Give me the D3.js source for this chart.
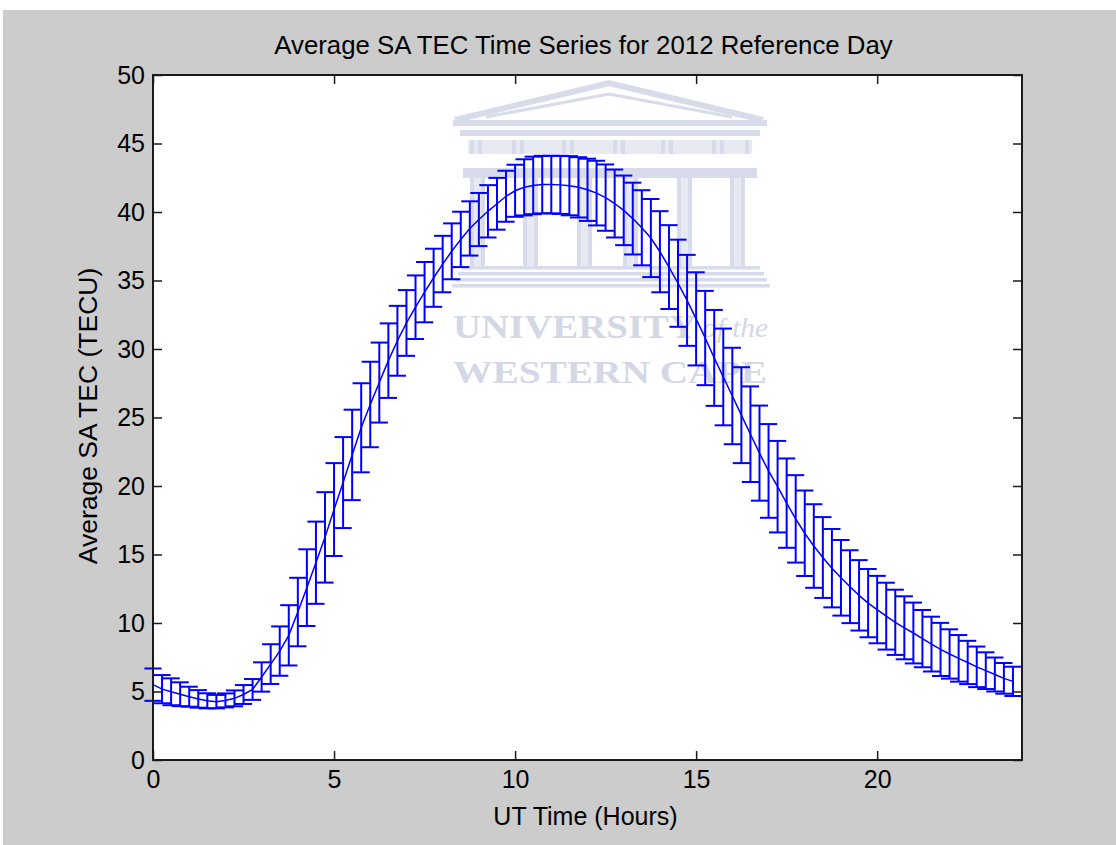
<!DOCTYPE html>
<html>
<head>
<meta charset="utf-8">
<script src="https://cdn.jsdelivr.net/npm/d3@7"></script>
<style>
  html, body { margin: 0; padding: 0; background: #ffffff; }
  svg { display: block; }
  text { font-family: "Liberation Sans", Arial, Helvetica, sans-serif; }
</style>
</head>
<body>
<svg id="chart" width="1116" height="845"></svg>
<script>
// UT time of each sample (hours)
const hours = [
  0.00, 0.25, 0.50, 0.75, 1.00, 1.25, 1.50, 1.75, 2.00, 2.25, 2.50, 2.75,
  3.00, 3.25, 3.50, 3.75, 4.00, 4.25, 4.50, 4.75, 5.00, 5.25, 5.50, 5.75,
  6.00, 6.25, 6.50, 6.75, 7.00, 7.25, 7.50, 7.75, 8.00, 8.25, 8.50, 8.75,
  9.00, 9.25, 9.50, 9.75, 10.00, 10.25, 10.50, 10.75, 11.00, 11.25, 11.50, 11.75,
  12.00, 12.25, 12.50, 12.75, 13.00, 13.25, 13.50, 13.75, 14.00, 14.25, 14.50, 14.75,
  15.00, 15.25, 15.50, 15.75, 16.00, 16.25, 16.50, 16.75, 17.00, 17.25, 17.50, 17.75,
  18.00, 18.25, 18.50, 18.75, 19.00, 19.25, 19.50, 19.75, 20.00, 20.25, 20.50, 20.75,
  21.00, 21.25, 21.50, 21.75, 22.00, 22.25, 22.50, 22.75, 23.00, 23.25, 23.50, 23.75
];

// Average SA TEC (TECU)
const tecMean = [
  5.50, 5.17, 4.98, 4.80, 4.62, 4.46, 4.32, 4.26, 4.35, 4.50, 4.78, 5.15,
  6.06, 7.00, 7.95, 9.10, 10.80, 12.58, 14.40, 16.25, 18.28, 20.25, 22.27, 24.25,
  25.95, 27.55, 29.15, 30.60, 31.90, 33.05, 34.15, 35.20, 36.20, 37.13, 38.00, 38.80,
  39.45, 40.05, 40.60, 41.15, 41.55, 41.80, 41.94, 42.00, 42.00, 41.98, 41.92, 41.80,
  41.62, 41.38, 41.05, 40.62, 40.12, 39.52, 38.85, 38.10, 37.10, 35.98, 34.80, 33.55,
  32.20, 30.80, 29.35, 27.96, 26.57, 25.17, 23.78, 22.40, 21.10, 19.95, 18.75, 17.60,
  16.55, 15.62, 14.78, 14.00, 13.30, 12.65, 12.02, 11.45, 10.98, 10.50, 10.05, 9.65,
  9.27, 8.86, 8.46, 8.07, 7.74, 7.42, 7.12, 6.80, 6.52, 6.24, 5.96, 5.74
];

// Error bar half-length (TECU)
const tecErr = [
  1.18, 1.03, 0.98, 0.87, 0.73, 0.64, 0.55, 0.49, 0.51, 0.58, 0.69, 0.76,
  1.07, 1.45, 1.80, 2.20, 2.50, 2.80, 3.00, 3.30, 3.39, 3.32, 3.30, 3.25,
  3.12, 2.92, 2.72, 2.55, 2.40, 2.32, 2.20, 2.12, 2.06, 2.04, 2.02, 1.98,
  1.94, 1.91, 1.89, 1.86, 1.90, 2.05, 2.10, 2.10, 2.10, 2.12, 2.16, 2.20,
  2.27, 2.36, 2.42, 2.48, 2.54, 2.62, 2.74, 2.85, 2.96, 3.06, 3.18, 3.32,
  3.40, 3.44, 3.50, 3.53, 3.52, 3.50, 3.49, 3.47, 3.42, 3.34, 3.26, 3.19,
  3.12, 3.05, 2.95, 2.86, 2.76, 2.66, 2.57, 2.49, 2.46, 2.44, 2.38, 2.30,
  2.22, 2.09, 2.00, 1.94, 1.80, 1.70, 1.58, 1.48, 1.34, 1.24, 1.12, 1.07
];

const xTicks = [0, 5, 10, 15, 20];
const yTicks = [0, 5, 10, 15, 20, 25, 30, 35, 40, 45, 50];

const titleText = "Average SA TEC Time Series for 2012 Reference Day";
const xLabelText = "UT Time (Hours)";
const yLabelText = "Average SA TEC (TECU)";

// ---- layout ----
const W = 1116, H = 845;
const plot = { left: 153, right: 1022, top: 75, bottom: 760 };
const fontSize = 25;
const tickLen = 9;
const ink = "#1a1a1a";
const blue = "#0000ff";

const svg = d3.select("#chart");

// figure background
svg.append("rect").attr("x", 3).attr("y", 10).attr("width", W - 3).attr("height", H - 10)
  .attr("fill", "#cccccc");

// axes background
svg.append("rect")
  .attr("x", plot.left).attr("y", plot.top)
  .attr("width", plot.right - plot.left).attr("height", plot.bottom - plot.top)
  .attr("fill", "#ffffff");

const x = d3.scaleLinear().domain([0, 24]).range([plot.left, plot.right]);
const y = d3.scaleLinear().domain([0, 50]).range([plot.bottom, plot.top]);

// ---- university crest in the axes background ----
const crest = svg.append("g").attr("class", "crest");
const cFill = "#d8dbe9";
const cLite = "#e8eaf2";
const serif = "'Liberation Serif', 'DejaVu Serif', serif";

// pediment (two nested gables)
crest.append("path")
  .attr("d", "M455,120 L609,83 L763,120")
  .attr("fill", "none").attr("stroke", cFill).attr("stroke-width", 6);
crest.append("path")
  .attr("d", "M486,117 L609,94 L732,117")
  .attr("fill", "none").attr("stroke", cFill).attr("stroke-width", 3);
// cornice bands
crest.append("rect").attr("x", 453).attr("y", 120).attr("width", 314).attr("height", 6).attr("fill", cFill);
crest.append("rect").attr("x", 460).attr("y", 130).attr("width", 300).attr("height", 6).attr("fill", cFill);
// frieze with triglyph blocks
crest.append("rect").attr("x", 468).attr("y", 140).attr("width", 284).attr("height", 14).attr("fill", cLite);
const triglyphX = [470, 478, 512, 520, 562, 570, 613, 621, 661, 669, 712, 720, 745];
crest.selectAll("rect.tri").data(triglyphX).enter().append("rect")
  .attr("class", "tri")
  .attr("x", d => d).attr("y", 140).attr("width", 4).attr("height", 14).attr("fill", cFill);
crest.append("rect").attr("x", 463).attr("y", 168).attr("width", 294).attr("height", 10).attr("fill", cFill);
// columns
const columnX = [470, 523, 577, 623, 677, 730];
columnX.forEach(cx => {
  crest.append("rect").attr("x", cx + 4).attr("y", 178).attr("width", 7).attr("height", 89).attr("fill", cLite);
  crest.append("rect").attr("x", cx).attr("y", 178).attr("width", 4).attr("height", 89).attr("fill", cFill);
  crest.append("rect").attr("x", cx + 11).attr("y", 178).attr("width", 4).attr("height", 89).attr("fill", cFill);
});
// stepped base
[[462, 266, 298], [458, 272, 306], [455, 278, 312], [452, 284, 318]].forEach(s => {
  crest.append("rect").attr("x", s[0]).attr("y", s[1]).attr("width", s[2]).attr("height", 3.5).attr("fill", cFill);
});
// lettering
crest.append("text").attr("x", 453).attr("y", 338)
  .attr("textLength", 244).attr("lengthAdjust", "spacingAndGlyphs")
  .style("font-family", serif).style("font-weight", "bold")
  .style("font-size", "33px").attr("fill", "#d4d7e5")
  .text("UNIVERSITY");
crest.append("text").attr("x", 702).attr("y", 337)
  .attr("textLength", 66).attr("lengthAdjust", "spacingAndGlyphs")
  .style("font-family", serif).style("font-style", "italic")
  .style("font-size", "28px").attr("fill", "#d4d7e5")
  .text("of the");
crest.append("text").attr("x", 453).attr("y", 383)
  .attr("textLength", 314).attr("lengthAdjust", "spacingAndGlyphs")
  .style("font-family", serif).style("font-weight", "bold")
  .style("font-size", "32px").attr("fill", "#d4d7e5")
  .text("WESTERN CAPE");

// ---- data: mean line and error bars ----
const pts = hours.map((h, i) => ({ h, m: tecMean[i], e: tecErr[i] }));
const tee = (d3.max(hours) - d3.min(hours)) / 100;

const data = svg.append("g").attr("class", "series");

data.append("path")
  .datum(pts)
  .attr("fill", "none")
  .attr("stroke", blue)
  .attr("stroke-width", 1.5)
  .attr("d", d3.line().x(d => x(d.h)).y(d => y(d.m)));

const bars = data.selectAll("g.eb").data(pts).enter().append("g").attr("class", "eb")
  .attr("stroke", blue).attr("stroke-width", 2);
bars.append("line")
  .attr("x1", d => x(d.h)).attr("x2", d => x(d.h))
  .attr("y1", d => y(d.m - d.e)).attr("y2", d => y(d.m + d.e));
bars.append("line")
  .attr("x1", d => x(d.h - tee)).attr("x2", d => x(d.h + tee))
  .attr("y1", d => y(d.m + d.e)).attr("y2", d => y(d.m + d.e));
bars.append("line")
  .attr("x1", d => x(d.h - tee)).attr("x2", d => x(d.h + tee))
  .attr("y1", d => y(d.m - d.e)).attr("y2", d => y(d.m - d.e));

// ---- axes (ticks pointing inward on all four sides) ----
function styleAxis(g) {
  g.select(".domain").remove();
  g.selectAll(".tick line").attr("stroke", ink).attr("stroke-width", 1.5);
  g.selectAll(".tick text").attr("fill", "#000").style("font-size", fontSize + "px")
    .style("font-family", "'Liberation Sans', Arial, sans-serif");
}

svg.append("g").attr("transform", `translate(0,${plot.bottom})`)
  .call(d3.axisBottom(x).tickValues(xTicks).tickSize(-tickLen).tickPadding(10).tickFormat(d3.format("d")))
  .call(styleAxis);
svg.append("g").attr("transform", `translate(0,${plot.top})`)
  .call(d3.axisTop(x).tickValues(xTicks).tickSize(-tickLen).tickFormat(""))
  .call(styleAxis);
svg.append("g").attr("transform", `translate(${plot.left},0)`)
  .call(d3.axisLeft(y).tickValues(yTicks).tickSize(-tickLen).tickPadding(8).tickFormat(d3.format("d")))
  .call(styleAxis);
svg.append("g").attr("transform", `translate(${plot.right},0)`)
  .call(d3.axisRight(y).tickValues(yTicks).tickSize(-tickLen).tickFormat(""))
  .call(styleAxis);

// axes box
svg.append("rect")
  .attr("x", plot.left).attr("y", plot.top)
  .attr("width", plot.right - plot.left).attr("height", plot.bottom - plot.top)
  .attr("fill", "none").attr("stroke", ink).attr("stroke-width", 2);

// ---- title and axis labels ----
svg.append("text")
  .attr("x", 583.5).attr("y", 54)
  .attr("text-anchor", "middle").style("font-size", "25.8px")
  .text(titleText);

svg.append("text")
  .attr("x", (plot.left + plot.right) / 2 - 2).attr("y", 825)
  .attr("text-anchor", "middle").style("font-size", fontSize + "px")
  .text(xLabelText);

svg.append("text")
  .attr("transform", `translate(97,416) rotate(-90)`)
  .attr("text-anchor", "middle").style("font-size", "26.5px")
  .text(yLabelText);
</script>
</body>
</html>
